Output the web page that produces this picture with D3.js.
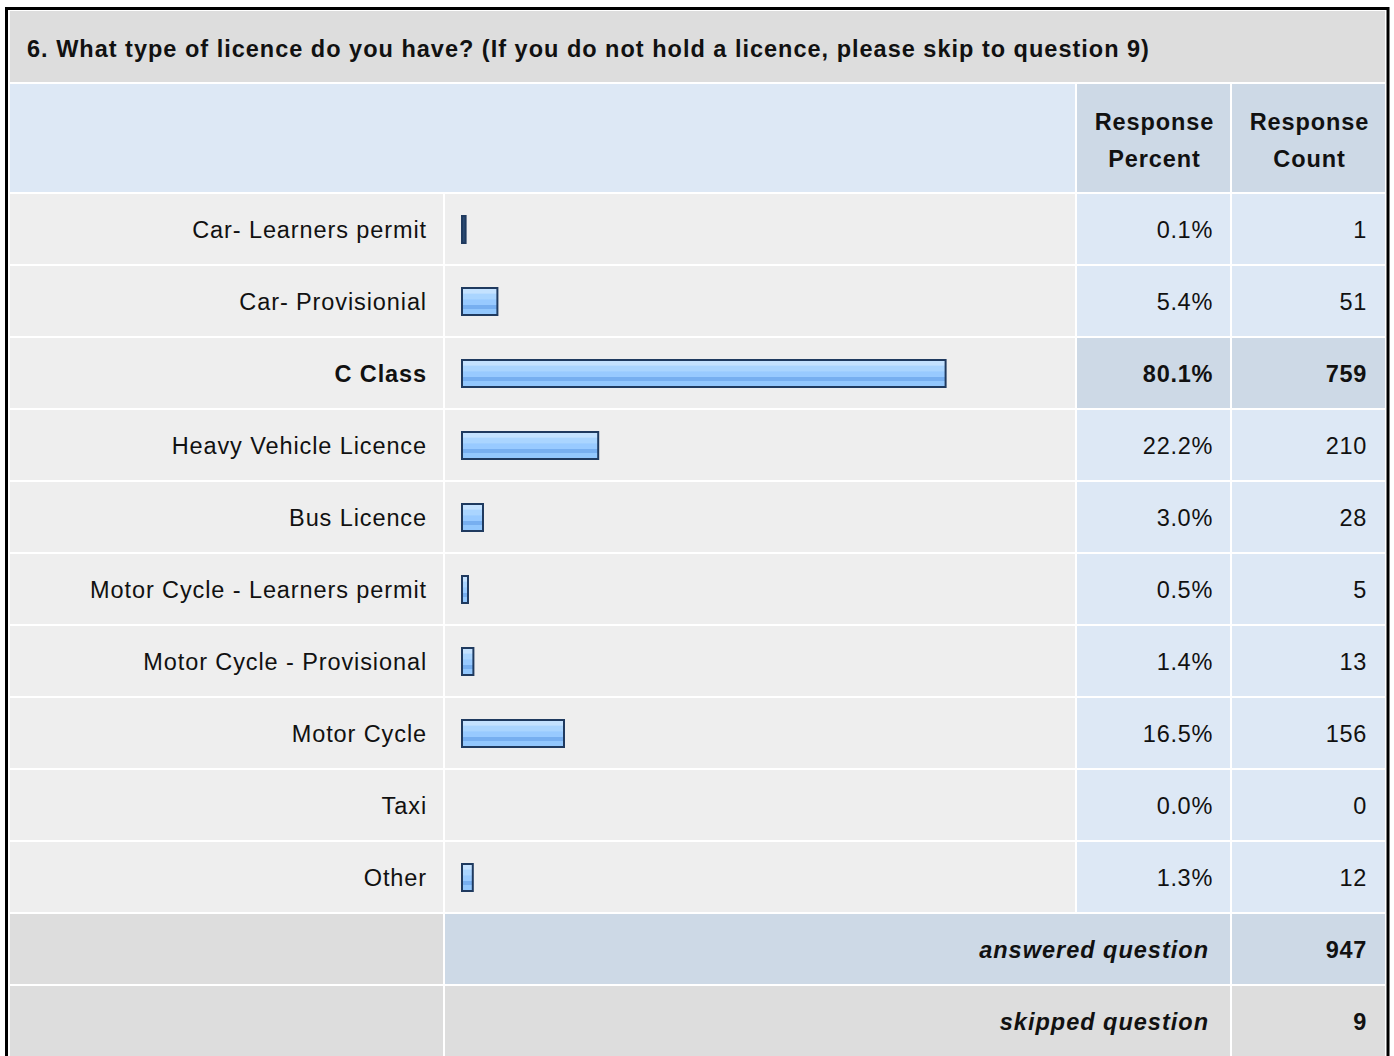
<!DOCTYPE html>
<html>
<head>
<meta charset="utf-8">
<script src="https://cdn.jsdelivr.net/npm/d3@7/dist/d3.min.js"></script>
<style>
  html, body { margin: 0; padding: 0; background: #fff; overflow: hidden; }
  svg text { font-family: "Liberation Sans", Arial, sans-serif; fill: #111; }
</style>
</head>
<body>
<div id="chart"></div>
<script>
var title = "6. What type of licence do you have? (If you do not hold a licence, please skip to question 9)";
var categories = ["Car- Learners permit", "Car- Provisionial", "C Class", "Heavy Vehicle Licence",
  "Bus Licence", "Motor Cycle - Learners permit", "Motor Cycle - Provisional", "Motor Cycle", "Taxi", "Other"];
var percents = [0.1, 5.4, 80.1, 22.2, 3.0, 0.5, 1.4, 16.5, 0.0, 1.3];
var counts = [1, 51, 759, 210, 28, 5, 13, 156, 0, 12];
var highlighted = "C Class";
var answered = 947;
var skipped = 9;

var width = 1394, height = 1056;
var fs = 23.5;

// column edges (cells, 2px spacing between)
var cols = [{x0: 10, x1: 443}, {x0: 445, x1: 1075}, {x0: 1077, x1: 1230}, {x0: 1232, x1: 1385}];

var svg = d3.select("#chart").append("svg")
    .attr("width", width)
    .attr("height", height);

var defs = svg.append("defs");
var grad = defs.append("linearGradient")
    .attr("id", "barGrad")
    .attr("x1", 0).attr("y1", 0).attr("x2", 0).attr("y2", 1);
[[0, "#c4e2ff"], [0.2, "#c4e2ff"], [0.21, "#aad5ff"], [0.42, "#aad5ff"], [0.43, "#98caff"],
 [0.62, "#98caff"], [0.63, "#77aff0"], [0.78, "#77aff0"], [0.79, "#92c7fd"], [1, "#92c7fd"]]
  .forEach(function (s) {
    grad.append("stop").attr("offset", s[0]).attr("stop-color", s[1]);
  });

var y = d3.scaleBand()
    .domain(categories)
    .range([193, 913])
    .paddingInner(2 / 72)
    .paddingOuter(1 / 72);

var x = d3.scaleLinear().domain([0, 100]).range([0, 600]);

function cell(x0, x1, y0, h, fill) {
  svg.append("rect")
      .attr("x", x0).attr("y", y0)
      .attr("width", x1 - x0).attr("height", h)
      .attr("fill", fill);
}

// title row
cell(10, 1385, 11, 71, "#dddddd");
svg.append("text")
    .attr("x", 27).attr("y", 57)
    .attr("font-size", fs)
    .attr("font-weight", "bold")
    .attr("letter-spacing", 1.0)
    .text(title);

// header row
cell(cols[0].x0, cols[1].x1, 84, 108, "#dde8f5");
cell(cols[2].x0, cols[2].x1, 84, 108, "#cdd9e6");
cell(cols[3].x0, cols[3].x1, 84, 108, "#cdd9e6");
[["Response", "Percent"], ["Response", "Count"]].forEach(function (lines, i) {
  var c = cols[i + 2];
  lines.forEach(function (t, j) {
    svg.append("text")
        .attr("x", (c.x0 + c.x1) / 2 + 1)
        .attr("y", 130 + j * 37)
        .attr("text-anchor", "middle")
        .attr("font-size", fs)
        .attr("font-weight", "bold")
        .attr("letter-spacing", 0.9)
        .text(t);
  });
});

// data rows
var rows = svg.selectAll(".row")
    .data(categories)
    .enter().append("g")
    .attr("class", "row")
    .attr("transform", function (d) { return "translate(0," + y(d) + ")"; });

rows.each(function (d, i) {
  var g = d3.select(this);
  var hi = d === highlighted;
  var h = y.bandwidth();
  g.append("rect").attr("x", cols[0].x0).attr("width", cols[0].x1 - cols[0].x0).attr("height", h).attr("fill", "#eeeeee");
  g.append("rect").attr("x", cols[1].x0).attr("width", cols[1].x1 - cols[1].x0).attr("height", h).attr("fill", "#eeeeee");
  g.append("rect").attr("x", cols[2].x0).attr("width", cols[2].x1 - cols[2].x0).attr("height", h).attr("fill", hi ? "#cdd9e6" : "#dde8f5");
  g.append("rect").attr("x", cols[3].x0).attr("width", cols[3].x1 - cols[3].x0).attr("height", h).attr("fill", hi ? "#cdd9e6" : "#dde8f5");

  var by = h / 2 + 8.5;
  g.append("text")
      .attr("x", 427).attr("y", by)
      .attr("text-anchor", "end")
      .attr("font-size", fs)
      .attr("font-weight", hi ? "bold" : "normal")
      .attr("letter-spacing", hi ? 0.9 : 0.9)
      .text(d);
  g.append("text")
      .attr("x", 1213).attr("y", by)
      .attr("text-anchor", "end")
      .attr("font-size", fs)
      .attr("font-weight", hi ? "bold" : "normal")
      .attr("letter-spacing", 0.7)
      .text(percents[i].toFixed(1) + "%");
  g.append("text")
      .attr("x", 1367).attr("y", by)
      .attr("text-anchor", "end")
      .attr("font-size", fs)
      .attr("font-weight", hi ? "bold" : "normal")
      .attr("letter-spacing", 0.7)
      .text(counts[i]);

  if (percents[i] > 0) {
    var w = x(percents[i]) + 3;
    g.append("rect")
        .attr("x", 462)
        .attr("y", h / 2 - 13)
        .attr("width", w)
        .attr("height", 27)
        .attr("fill", w < 5 ? "#2a4a72" : "url(#barGrad)")
        .attr("stroke", "#1f3a5f")
        .attr("stroke-width", 2);
  }
});

// footer rows
cell(cols[0].x0, cols[0].x1, 914, 70, "#dddddd");
cell(cols[1].x0, cols[2].x1, 914, 70, "#cdd9e6");
cell(cols[3].x0, cols[3].x1, 914, 70, "#cdd9e6");
cell(cols[0].x0, cols[0].x1, 986, 72, "#dddddd");
cell(cols[1].x0, cols[2].x1, 986, 72, "#dddddd");
cell(cols[3].x0, cols[3].x1, 986, 72, "#dddddd");

[["answered question", answered, 949], ["skipped question", skipped, 1021]].forEach(function (r) {
  svg.append("text")
      .attr("x", 1209).attr("y", r[2] + 9)
      .attr("text-anchor", "end")
      .attr("font-size", fs)
      .attr("font-weight", "bold")
      .attr("font-style", "italic")
      .attr("letter-spacing", 1.0)
      .text(r[0]);
  svg.append("text")
      .attr("x", 1367).attr("y", r[2] + 9)
      .attr("text-anchor", "end")
      .attr("font-size", fs)
      .attr("font-weight", "bold")
      .attr("letter-spacing", 0.7)
      .text(r[1]);
});

// outer border
svg.append("rect")
    .attr("x", 6.5).attr("y", 8.5)
    .attr("width", 1381.5).attr("height", 1070)
    .attr("fill", "none")
    .attr("stroke", "#000")
    .attr("stroke-width", 3);
</script>
</body>
</html>
